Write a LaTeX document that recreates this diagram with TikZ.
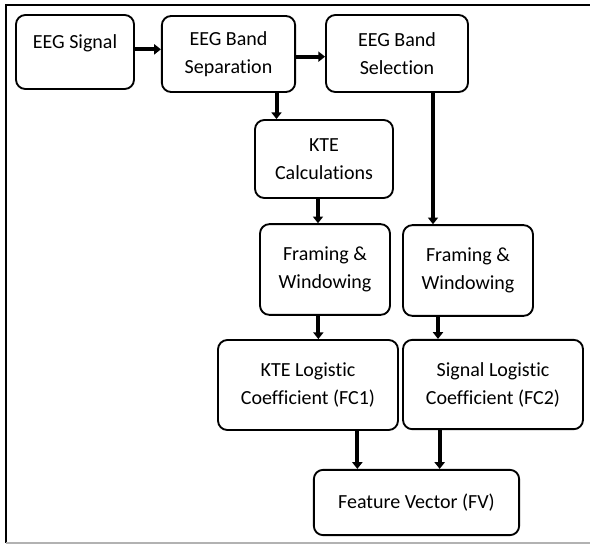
\documentclass[tikz,border=0pt]{standalone}
\usepackage{fontspec}
\setmainfont{Carlito}[Ligatures=NoCommon]
\usetikzlibrary{arrows.meta}

\tikzset{
	blk/.style={draw, line width=1.4pt, rounded corners=7pt, align=center, inner sep=2pt,
		font=\fontsize{15}{21}\selectfont},
	flow/.style={line width=3pt, -{Triangle[width=7.5pt,length=5pt]}}
}

\begin{document}
\begin{tikzpicture}[x=0.75pt, y=-0.75pt]
		\useasboundingbox (0,0) rectangle (590,544);
		% marco
		\draw[line width=1.5pt] (590,5) -- (6,5) -- (6,543);
		\draw[line width=1pt, gray!60] (6,543) -- (590,543);
		
		% bloques
		\node[blk, minimum width=88.5pt, minimum height=55.5pt, text depth=16pt] (sig) at (75,52) {EEG Signal};
		\node[blk, minimum width=100pt, minimum height=57pt] (sep) at (228.5,54) {EEG Band\\Separation};
		\node[blk, minimum width=106.5pt, minimum height=57.75pt] (sel) at (397,53.5) {EEG Band\\Selection};
		\node[blk, minimum width=103.5pt, minimum height=58.5pt] (kte) at (324,159) {KTE\\Calculations};
		\node[blk, minimum width=97.5pt, minimum height=68pt] (frm1) at (325,269.5) {Framing \&\\Windowing};
		\node[blk, minimum width=97.5pt, minimum height=68pt] (frm2) at (468,270.5) {Framing \&\\Windowing};
		\node[blk, minimum width=135pt, minimum height=67.5pt] (ktelog) at (308,385) {KTE Logistic\\Coefficient (FC1)};
		\node[blk, minimum width=135pt, minimum height=67pt] (siglog) at (493,384.5) {Signal Logistic\\Coefficient (FC2)};
		\node[blk, minimum width=154pt, minimum height=49pt] (fv) at (416.5,502.5) {Feature Vector (FV)};
		
		% flechas
		\draw[flow] ([yshift=2pt]sig.east) -- ([yshift=2pt]sig.east -| sep.west);
		\draw[flow] ([yshift=-2pt]sep.east) -- ([yshift=-2pt]sep.east -| sel.west);
		\draw[flow] ([xshift=36pt]sep.south) -- ([xshift=36pt]sep.south |- kte.north);
		\draw[flow, line width=2.5pt] ([xshift=27pt]sel.south) -- ([xshift=27pt]sel.south |- frm2.north);
		\draw[flow] ([xshift=-4.5pt]kte.south) -- ([xshift=-4.5pt]kte.south |- frm1.north);
		\draw[flow] ([xshift=-5pt]frm1.south) -- ([xshift=-5pt]frm1.south |- ktelog.north);
		\draw[flow] ([xshift=-22.5pt]frm2.south) -- ([xshift=-22.5pt]frm2.south |- siglog.north);
		\draw[flow] ([xshift=37pt]ktelog.south) -- ([xshift=37pt]ktelog.south |- fv.north);
		\draw[flow] ([xshift=-40pt]siglog.south) -- ([xshift=-40pt]siglog.south |- fv.north);
	\end{tikzpicture}
\end{document}
